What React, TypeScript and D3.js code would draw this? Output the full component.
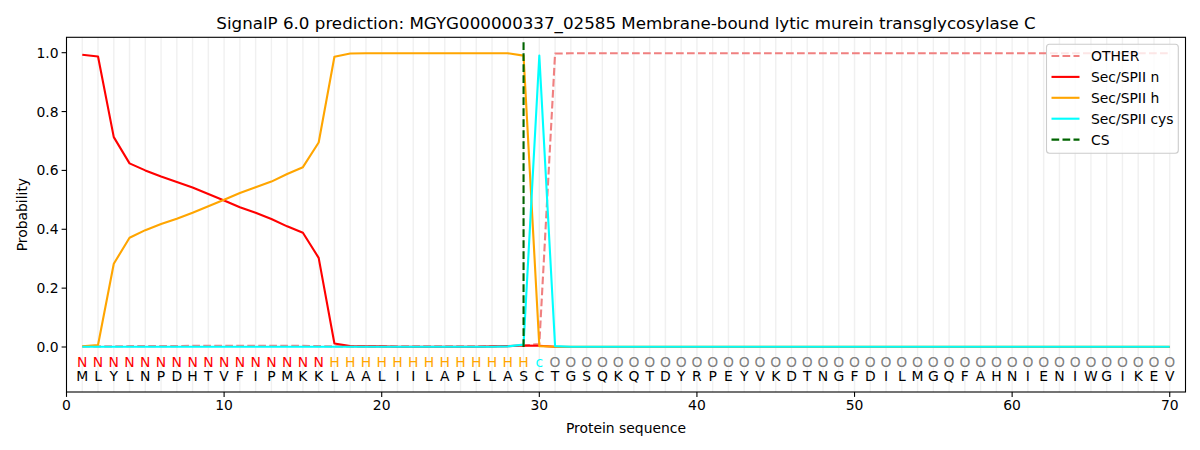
import * as d3 from "d3";

const title =
  "SignalP 6.0 prediction: MGYG000000337_02585 Membrane-bound lytic murein transglycosylase C";

const sequence = "MLYLNPDHTVFIPMKKLAALIILAPLLASCTGSQKQTDYRPEYVKDTNGFDILMGQFAHNIENIWGIKEV".split("");
const predicted = "NNNNNNNNNNNNNNNNHHHHHHHHHHHHHcOOOOOOOOOOOOOOOOOOOOOOOOOOOOOOOOOOOOOOOO".split("");

const otherProb = [
  0.002, 0.002, 0.002, 0.003, 0.003, 0.003, 0.003, 0.004, 0.004, 0.004,
  0.004, 0.004, 0.004, 0.004, 0.004, 0.003, 0.002, 0.002, 0.002, 0.002,
  0.002, 0.002, 0.002, 0.002, 0.002, 0.002, 0.002, 0.003, 0.005, 0.01,
  0.997, 0.998, 0.998, 0.998, 0.998, 0.998, 0.998, 0.998, 0.998, 0.998,
  0.998, 0.998, 0.998, 0.998, 0.998, 0.998, 0.998, 0.998, 0.998, 0.998,
  0.998, 0.998, 0.998, 0.998, 0.998, 0.998, 0.998, 0.998, 0.998, 0.998,
  0.998, 0.998, 0.998, 0.998, 0.998, 0.998, 0.998, 0.998, 0.998, 0.998,
];
const nProb = [
  0.993, 0.987, 0.713, 0.624, 0.6, 0.579, 0.561, 0.542, 0.52, 0.498,
  0.475, 0.456, 0.435, 0.41, 0.388, 0.303, 0.012, 0.003, 0.002, 0.002,
  0.001, 0.001, 0.001, 0.001, 0.001, 0.001, 0.002, 0.003, 0.005, 0.004,
  0.001, 0, 0, 0, 0, 0, 0, 0, 0, 0,
  0, 0, 0, 0, 0, 0, 0, 0, 0, 0,
  0, 0, 0, 0, 0, 0, 0, 0, 0, 0,
  0, 0, 0, 0, 0, 0, 0, 0, 0, 0,
];
const hProb = [
  0.002, 0.007, 0.283, 0.371, 0.397, 0.418, 0.436, 0.456, 0.478, 0.5,
  0.523, 0.543, 0.562, 0.588, 0.611, 0.695, 0.986, 0.997, 0.998, 0.998,
  0.998, 0.998, 0.998, 0.998, 0.998, 0.998, 0.998, 0.998, 0.99, 0.003,
  0.001, 0.001, 0.001, 0.001, 0.001, 0.001, 0.001, 0.001, 0.001, 0.001,
  0.001, 0.001, 0.001, 0.001, 0.001, 0.001, 0.001, 0.001, 0.001, 0.001,
  0.001, 0.001, 0.001, 0.001, 0.001, 0.001, 0.001, 0.001, 0.001, 0.001,
  0.001, 0.001, 0.001, 0.001, 0.001, 0.001, 0.001, 0.001, 0.001, 0.001,
];
const cysProb = [
  0.001, 0.001, 0.001, 0.001, 0.001, 0.001, 0.001, 0.001, 0.001, 0.001,
  0.001, 0.001, 0.001, 0.001, 0.001, 0.001, 0.001, 0.001, 0.001, 0.001,
  0.001, 0.001, 0.001, 0.001, 0.001, 0.001, 0.001, 0.002, 0.008, 0.99,
  0.003, 0.001, 0.001, 0.001, 0.001, 0.001, 0.001, 0.001, 0.001, 0.001,
  0.001, 0.001, 0.001, 0.001, 0.001, 0.001, 0.001, 0.001, 0.001, 0.001,
  0.001, 0.001, 0.001, 0.001, 0.001, 0.001, 0.001, 0.001, 0.001, 0.001,
  0.001, 0.001, 0.001, 0.001, 0.001, 0.001, 0.001, 0.001, 0.001, 0.001,
];
const csPos = 29;

const xTicks = [0, 10, 20, 30, 40, 50, 60, 70];
const yTicks = [0, 0.2, 0.4, 0.6, 0.8, 1.0];

const series = [
  { name: "OTHER", values: otherProb, color: "#f08080", dash: "7.7,3.3" },
  { name: "Sec/SPII n", values: nProb, color: "#ff0000", dash: "" },
  { name: "Sec/SPII h", values: hProb, color: "#ffa500", dash: "" },
  { name: "Sec/SPII cys", values: cysProb, color: "#00ffff", dash: "" },
];

const predColor: { [k: string]: string } = {
  N: "#ff0000",
  H: "#ffa500",
  c: "#00ffff",
  O: "#808080",
};

const FONT = "DejaVu Sans, sans-serif";

export default function App() {
  const left = 66.5;
  const right = 1185.5;
  const top = 37.3;
  const bottom = 392;

  const x = d3.scaleLinear().domain([0, 71]).range([left, right]);
  const y = d3.scaleLinear().domain([-0.1529, 1.0523]).range([bottom, top]);

  const line = d3
    .line<number>()
    .x((_, i) => x(i + 1))
    .y((d) => y(d));

  const positions = d3.range(1, sequence.length + 1);

  const legendItems = [
    ...series.map((s) => ({ name: s.name, color: s.color, dash: s.dash })),
    { name: "CS", color: "#006400", dash: "7.7,3.3" },
  ];

  return (
    <svg
      width={1200}
      height={450}
      style={{ position: "absolute", left: 0, top: 0, background: "white" }}
      fontFamily={FONT}
    >
      <rect x={0} y={0} width={1200} height={450} fill="white" />
      <text x={(left + right) / 2} y={29} textAnchor="middle" fontSize={16.7}>
        {title}
      </text>

      {/* per-residue grid */}
      {positions.map((p) => (
        <line
          key={"g" + p}
          x1={x(p)}
          x2={x(p)}
          y1={top}
          y2={bottom}
          stroke="#808080"
          strokeOpacity={0.12}
          strokeWidth={1.4}
        />
      ))}

      {series.map((s) => (
        <path
          key={s.name}
          d={line(s.values) ?? ""}
          fill="none"
          stroke={s.color}
          strokeWidth={2.1}
          strokeDasharray={s.dash || undefined}
          strokeLinejoin="round"
        />
      ))}

      <line
        x1={x(csPos)}
        x2={x(csPos)}
        y1={y(0)}
        y2={y(1.04)}
        stroke="#006400"
        strokeWidth={2.1}
        strokeDasharray="7.7,3.3"
      />

      {/* sequence labels */}
      {positions.map((p, i) => (
        <g key={"s" + p}>
          <text
            x={x(p)}
            y={y(-0.05)}
            textAnchor="middle"
            dominantBaseline="central"
            fontSize={13.9}
            fill={predColor[predicted[i]]}
          >
            {predicted[i]}
          </text>
          <text
            x={x(p)}
            y={y(-0.1)}
            textAnchor="middle"
            dominantBaseline="central"
            fontSize={13.9}
            fill="#000"
          >
            {sequence[i]}
          </text>
        </g>
      ))}

      {/* axes frame */}
      <rect
        x={left}
        y={top}
        width={right - left}
        height={bottom - top}
        fill="none"
        stroke="#000"
        strokeWidth={1.1}
      />

      {xTicks.map((t) => (
        <g key={"xt" + t}>
          <line x1={x(t)} x2={x(t)} y1={bottom} y2={bottom + 4.9} stroke="#000" strokeWidth={1.1} />
          <text x={x(t)} y={bottom + 8} textAnchor="middle" dominantBaseline="hanging" fontSize={13.9}>
            {t}
          </text>
        </g>
      ))}
      {yTicks.map((t) => (
        <g key={"yt" + t}>
          <line x1={left - 4.9} x2={left} y1={y(t)} y2={y(t)} stroke="#000" strokeWidth={1.1} />
          <text
            x={left - 8}
            y={y(t)}
            textAnchor="end"
            dominantBaseline="central"
            fontSize={13.9}
          >
            {t.toFixed(1)}
          </text>
        </g>
      ))}

      <text x={(left + right) / 2} y={433} textAnchor="middle" fontSize={13.9}>
        Protein sequence
      </text>
      <text
        transform={`translate(27, ${(top + bottom) / 2}) rotate(-90)`}
        textAnchor="middle"
        fontSize={13.9}
      >
        Probability
      </text>

      {/* legend */}
      <rect
        x={1046.5}
        y={44.3}
        width={131.8}
        height={109}
        rx={3}
        fill="white"
        fillOpacity={0.8}
        stroke="#cccccc"
        strokeWidth={1.1}
      />
      {legendItems.map((it, i) => {
        const ly = 56 + i * 20.9;
        return (
          <g key={it.name}>
            <line
              x1={1051.5}
              x2={1079.5}
              y1={ly}
              y2={ly}
              stroke={it.color}
              strokeWidth={2.1}
              strokeDasharray={it.dash || undefined}
            />
            <text x={1091} y={ly} dominantBaseline="central" fontSize={13.9}>
              {it.name}
            </text>
          </g>
        );
      })}
    </svg>
  );
}
